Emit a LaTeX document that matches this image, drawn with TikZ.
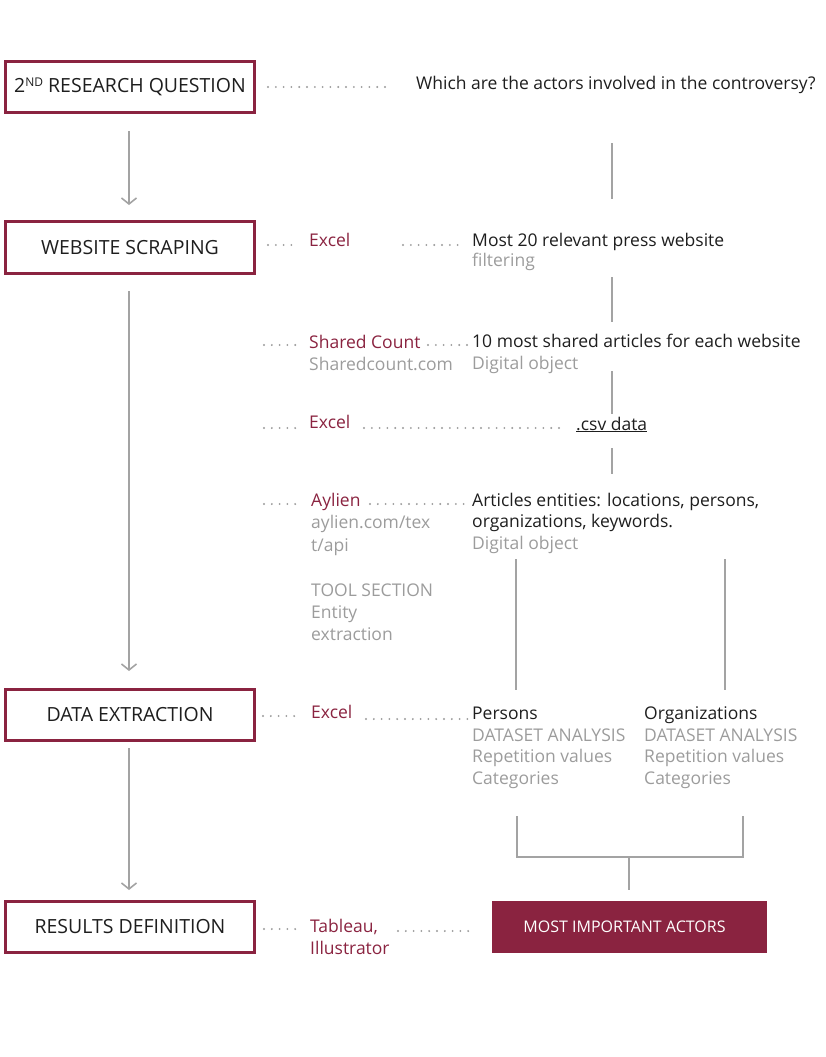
\documentclass[tikz,border=0pt]{standalone}
\usepackage{fontspec}
\setmainfont{Open Sans}
\usetikzlibrary{arrows.meta}
\definecolor{maroon}{HTML}{8A2340}
\definecolor{lgray}{HTML}{A3A3A3}
\definecolor{dgray}{HTML}{9A9A9A}
\definecolor{tgray}{HTML}{9C9C9C}
\definecolor{ink}{HTML}{1E1E1E}
\begin{document}
\begin{tikzpicture}[x=1pt,y=-1pt,
  stage/.style={draw=maroon,line width=2.6pt,minimum width=249.5pt,minimum height=51.5pt,inner sep=0pt,font=\fontsize{19.5}{22}\selectfont,text=ink},
  txt/.style={anchor=base west,inner sep=0pt,font=\fontsize{17.5}{22}\selectfont,text=ink},
  gtxt/.style={txt,text=tgray},
  tool/.style={txt,text=maroon},
  dots/.style={draw=dgray,line width=2.1pt,line cap=round,dash pattern=on 0pt off 7.8pt},
  vline/.style={draw=lgray,line width=2pt},
  flow/.style={vline,-{Straight Barb[length=6pt,width=15pt,line width=1.6pt]}},
  result/.style={fill=maroon,minimum width=275pt,minimum height=52pt,inner sep=0pt,text=white,font=\fontsize{16}{18}\selectfont}
]
\useasboundingbox (0,0) rectangle (825,1057);

% stage boxes
\node[stage] (b1) at (130,87) {2{\fontsize{12}{14}\selectfont\raisebox{5.5pt}{ND}} RESEARCH QUESTION};
\node[stage] (b2) at (130,247.5) {WEBSITE SCRAPING};
\node[stage] (b3) at (130,715) {DATA EXTRACTION};
\node[stage] (b4) at (130,927) {RESULTS DEFINITION};

% flow arrows
\coordinate (a1s) at (129,131); \coordinate (a1e) at (129,205);
\coordinate (a2s) at (129,291); \coordinate (a2e) at (129,671);
\coordinate (a3s) at (129,748); \coordinate (a3e) at (129,890);
\draw[flow] (a1s) -- (a1e);
\draw[flow] (a2s) -- (a2e);
\draw[flow] (a3s) -- (a3e);

% row 1
\node[txt] (q) at (416,89) {Which are the actors involved in the controversy?};
\coordinate (d1s) at (268,87); \coordinate (d1e) at (392,87);
\draw[dots] (d1s) -- (d1e);

% row 2
\node[tool] (t2) at (309,246) {Excel};
\node[txt] (r2) at (472,246) {Most 20 relevant press website};
\node[gtxt] (r2b) at (472,266) {filtering};
\coordinate (d2as) at (268,245); \coordinate (d2ae) at (298,245);
\coordinate (d2bs) at (403,245); \coordinate (d2be) at (465,245);
\draw[dots] (d2as) -- (d2ae);
\draw[dots] (d2bs) -- (d2be);

% row 3
\node[tool] (t3) at (309,348) {Shared Count};
\node[gtxt] (t3b) at (309,370) {Sharedcount.com};
\node[txt] (r3) at (472,347) {10 most shared articles for each website};
\node[gtxt] (r3b) at (472,369) {Digital object};
\coordinate (d3as) at (264,345); \coordinate (d3ae) at (298,345);
\coordinate (d3bs) at (428,345); \coordinate (d3be) at (470,345);
\draw[dots] (d3as) -- (d3ae);
\draw[dots] (d3bs) -- (d3be);

% row 4
\node[tool] (t4) at (309,428.5) {Excel};
\node[txt] (r4) at (576,430) {\underline{.csv data}};
\coordinate (d4as) at (264,428); \coordinate (d4ae) at (298,428);
\coordinate (d4bs) at (364,428); \coordinate (d4be) at (562,428);
\draw[dots] (d4as) -- (d4ae);
\draw[dots] (d4bs) -- (d4be);

% row 5
\node[tool] (t5) at (311,506) {Aylien};
\node[gtxt] (t5b) at (311,528.5) {aylien.com/tex};
\node[gtxt] (t5c) at (311,551) {t/api};
\node[gtxt] (t5d) at (311,596) {TOOL SECTION};
\node[gtxt] (t5e) at (311,618) {Entity};
\node[gtxt] (t5f) at (311,640) {extraction};
\node[txt] (r5) at (472,506) {Articles entities: locations, persons,};
\node[txt] (r5b) at (472,527) {organizations, keywords.};
\node[gtxt] (r5c) at (472,549) {Digital object};
\coordinate (d5as) at (264,504); \coordinate (d5ae) at (298,504);
\coordinate (d5bs) at (370,504); \coordinate (d5be) at (465,504);
\draw[dots] (d5as) -- (d5ae);
\draw[dots] (d5bs) -- (d5be);

% row 6
\node[tool] (t6) at (311,718) {Excel};
\node[txt] (p1) at (472,719) {Persons};
\node[gtxt] (p2) at (472,741) {DATASET ANALYSIS};
\node[gtxt] (p3) at (472,762.5) {Repetition values};
\node[gtxt] (p4) at (472,784) {Categories};
\node[txt] (o1) at (644,719) {Organizations};
\node[gtxt] (o2) at (644,741) {DATASET ANALYSIS};
\node[gtxt] (o3) at (644,762.5) {Repetition values};
\node[gtxt] (o4) at (644,784) {Categories};
\coordinate (d6as) at (263,716); \coordinate (d6ae) at (298,716);
\coordinate (d6bs) at (366,719); \coordinate (d6be) at (470,719);
\draw[dots] (d6as) -- (d6ae);
\draw[dots] (d6bs) -- (d6be);

% row 7
\node[tool] (t7) at (310,932) {Tableau,};
\node[tool] (t7b) at (310,954) {Illustrator};
\node[result] (res) at (629.5,927) {\hspace*{-10pt}MOST IMPORTANT ACTORS};
\coordinate (d7as) at (264,929); \coordinate (d7ae) at (300,929);
\coordinate (d7bs) at (398,931); \coordinate (d7be) at (472,931);
\draw[dots] (d7as) -- (d7ae);
\draw[dots] (d7bs) -- (d7be);

% right-hand column connectors
\coordinate (v1s) at (612,143); \coordinate (v1e) at (612,199);
\coordinate (v2s) at (612,277); \coordinate (v2e) at (612,322);
\coordinate (v3s) at (612,371); \coordinate (v3e) at (612,414);
\coordinate (v4s) at (612,448); \coordinate (v4e) at (612,474);
\draw[vline] (v1s) -- (v1e);
\draw[vline] (v2s) -- (v2e);
\draw[vline] (v3s) -- (v3e);
\draw[vline] (v4s) -- (v4e);
\coordinate (pls) at (516,559); \coordinate (ple) at (516,690);
\coordinate (ols) at (725,559); \coordinate (ole) at (725,690);
\draw[vline] (pls) -- (ple);
\draw[vline] (ols) -- (ole);

% bracket
\coordinate (bl) at (517,816); \coordinate (br) at (743,816);
\coordinate (bm) at (629,857); \coordinate (bs) at (629,890);
\draw[vline] (bl) |- (bm) -| (br);
\draw[vline] (bm) -- (bs);
\end{tikzpicture}
\end{document}
